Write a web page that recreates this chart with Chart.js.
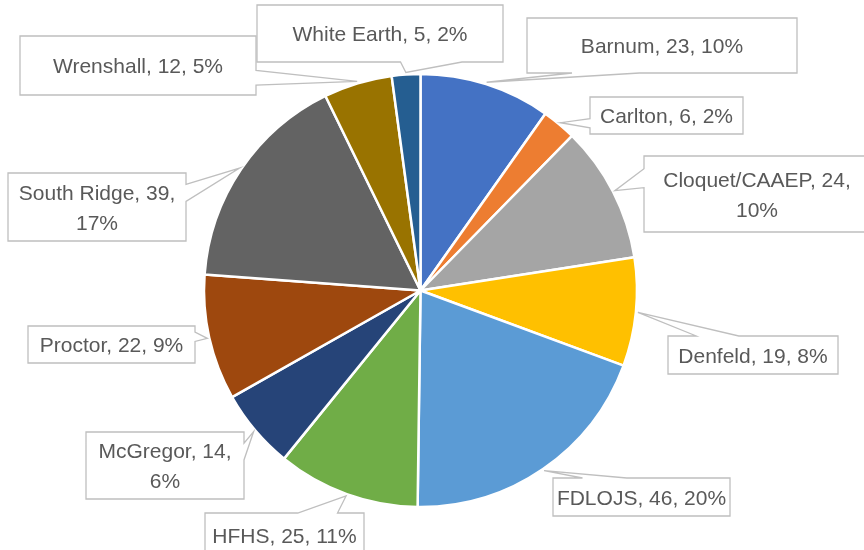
<!DOCTYPE html>
<html>
<head>
<meta charset="utf-8">
<script src="https://cdn.jsdelivr.net/npm/chart.js@4/dist/chart.umd.min.js"></script>
<style>
  body { margin: 0; background: #fff; }
</style>
</head>
<body>
<canvas id="pieChart" width="864" height="550"></canvas>
<script>
// 円グラフ
const categories = ['Barnum', 'Carlton', 'Cloquet/CAAEP', 'Denfeld', 'FDLOJS', 'HFHS',
  'McGregor', 'Proctor', 'South Ridge', 'Wrenshall', 'White Earth'];
const counts = [23, 6, 24, 19, 46, 25, 14, 22, 39, 12, 5];
const percents = [10, 2, 10, 8, 20, 11, 6, 9, 17, 5, 2];
const colors = ['#4472C4', '#ED7D31', '#A5A5A5', '#FFC000', '#5B9BD5', '#70AD47',
  '#264478', '#9E480E', '#636363', '#997300', '#255E91'];

// callout boxes: [x, y, w, h] and whether the percentage goes on a second line
const boxes = [
  [527, 18, 270, 55], [590, 97, 153, 37], [644, 156, 226, 76], [668, 336, 170, 38],
  [553, 478, 177, 38], [205, 513, 159, 44], [86, 432, 158, 67], [28, 326, 167, 37],
  [8, 173, 178, 68], [20, 36, 236, 59], [257, 5, 246, 57]
];
const wrapPct = [false, false, true, false, false, false, true, false, true, false, false];

const calloutPlugin = {
  id: 'callouts',
  afterDatasetsDraw(chart) {
    const ctx = chart.ctx;
    const meta = chart.getDatasetMeta(0);
    ctx.save();
    ctx.font = '21px "Liberation Sans", Arial, sans-serif';
    ctx.textAlign = 'center';
    ctx.textBaseline = 'middle';
    meta.data.forEach((arc, i) => {
      const p = arc.getProps(['x', 'y', 'startAngle', 'endAngle', 'outerRadius'], true);
      const mid = (p.startAngle + p.endAngle) / 2;
      const tx = p.x + Math.cos(mid) * (p.outerRadius + 2);
      const ty = p.y + Math.sin(mid) * (p.outerRadius + 2);
      const [x0, y0, w, h] = boxes[i];
      const x1 = x0 + w, y1 = y0 + h;
      const cx = x0 + w / 2, cy = y0 + h / 2;
      const side = Math.abs(tx - cx) / w > Math.abs(ty - cy) / h;
      const xa = tx < cx ? x0 + w / 6 : x0 + 7 * w / 12;
      const xb = tx < cx ? x0 + 5 * w / 12 : x0 + 5 * w / 6;
      const ya = ty < cy ? y0 + h / 6 : y0 + 7 * h / 12;
      const yb = ty < cy ? y0 + 5 * h / 12 : y0 + 5 * h / 6;

      ctx.beginPath();
      ctx.moveTo(x0, y0);
      if (!side && ty < cy) { ctx.lineTo(xa, y0); ctx.lineTo(tx, ty); ctx.lineTo(xb, y0); }
      ctx.lineTo(x1, y0);
      if (side && tx > cx) { ctx.lineTo(x1, ya); ctx.lineTo(tx, ty); ctx.lineTo(x1, yb); }
      ctx.lineTo(x1, y1);
      if (!side && ty > cy) { ctx.lineTo(xb, y1); ctx.lineTo(tx, ty); ctx.lineTo(xa, y1); }
      ctx.lineTo(x0, y1);
      if (side && tx < cx) { ctx.lineTo(x0, yb); ctx.lineTo(tx, ty); ctx.lineTo(x0, ya); }
      ctx.closePath();
      ctx.fillStyle = '#ffffff';
      ctx.fill();
      ctx.strokeStyle = '#BFBFBF';
      ctx.lineWidth = 1.3;
      ctx.stroke();

      ctx.fillStyle = '#595959';
      if (wrapPct[i]) {
        ctx.fillText(categories[i] + ', ' + counts[i] + ',', cx, cy - 13);
        ctx.fillText(percents[i] + '%', cx, cy + 17);
      } else {
        ctx.fillText(categories[i] + ', ' + counts[i] + ', ' + percents[i] + '%', cx, cy + 2);
      }
    });
    ctx.restore();
  }
};

const pieData = {
  labels: categories,
  datasets: [{
    data: counts,
    backgroundColor: colors,
    borderColor: '#ffffff',
    borderWidth: 2.5,
    hoverOffset: 0
  }]
};

const pieConfig = {
  type: 'pie',
  data: pieData,
  options: {
    responsive: false,
    animation: false,
    radius: 216.5,
    layout: { padding: { left: 0, right: 23, top: 31, bottom: 0 } },
    plugins: {
      legend: { display: false },
      tooltip: { enabled: false }
    }
  },
  plugins: [calloutPlugin]
};

const pieChart = new Chart(document.getElementById('pieChart'), pieConfig);
</script>
</body>
</html>
